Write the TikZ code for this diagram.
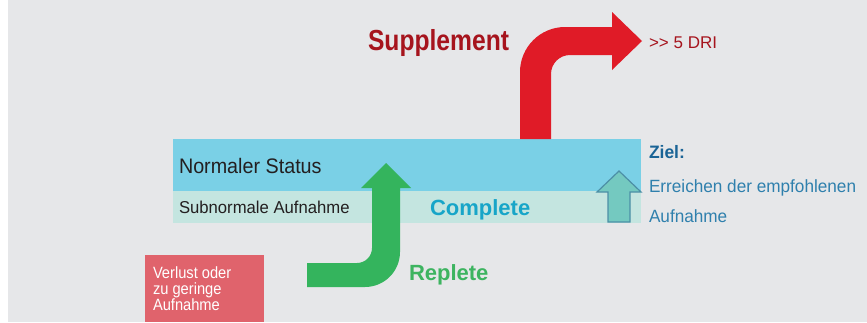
\documentclass[tikz,border=0pt]{standalone}
\usepackage{fontspec}
\setmainfont{Liberation Sans}
\newfontfamily\condN[FakeStretch=0.94]{Liberation Sans}
\newfontfamily\condA[FakeStretch=0.97]{Liberation Sans}
\newfontfamily\condB[FakeStretch=0.85]{Liberation Sans}
\newfontfamily\condC[FakeStretch=0.90]{Liberation Sans}
\definecolor{bggray}{HTML}{E6E7E9}
\definecolor{bandblue}{HTML}{7AD0E6}
\definecolor{bandlight}{HTML}{C4E5E0}
\definecolor{boxred}{HTML}{E0636C}
\definecolor{arrgreen}{HTML}{34B45D}
\definecolor{arrred}{HTML}{E01B27}
\definecolor{darkred}{HTML}{A6141D}
\definecolor{txtgray}{HTML}{231F20}
\definecolor{cyantxt}{HTML}{17A5C8}
\definecolor{greentxt}{HTML}{3DB460}
\definecolor{zielblue}{HTML}{1A6496}
\definecolor{goalblue}{HTML}{2F80AD}
\definecolor{tealfill}{HTML}{74C9C0}
\definecolor{tealline}{HTML}{4C8FA6}
\tikzset{
  lbl/.style={anchor=base west,inner sep=0pt,outer sep=0pt},
}
\begin{document}
\begin{tikzpicture}[x=1pt,y=-1pt]
\useasboundingbox (0,0) rectangle (867,322);
\fill[white] (0,0) rectangle (8,322);
\fill[bggray] (8,0) rectangle (867,322);
% bands
\fill[bandblue] (173,139) rectangle (641,191);
\fill[bandlight] (173,191) rectangle (641,223);
% red box
\fill[boxred] (145,255) rectangle (264,322);
% green arrow
\fill[arrgreen] (307,263) -- (357,263)
  .. controls (365.3,263) and (372,256.3) .. (372,248)
  -- (372,188) -- (361,188) -- (386,163) -- (411,188) -- (400,188)
  -- (400,252)
  .. controls (400,271.3) and (384.3,287) .. (365,287)
  -- (307,287) -- cycle;
% red arrow
\fill[arrred] (520,139) -- (520,72)
  .. controls (520,47.2) and (540.2,27) .. (565,27)
  -- (612,27) -- (612,12) -- (642,41) -- (612,70) -- (612,55)
  -- (570,55)
  .. controls (559.5,55) and (551,63.5) .. (551,74)
  -- (551,139) -- cycle;
% teal arrow
\filldraw[fill=tealfill,draw=tealline,line width=1.2pt,line join=miter]
  (608,222) -- (608,192) -- (597,192) -- (619,171) -- (641,192) -- (630,192) -- (630,222) -- cycle;
% texts
\node[lbl,text=txtgray,font=\condN\fontsize{21}{21}\selectfont] (normal) at (179,173.5) {Normaler Status};
\node[lbl,text=txtgray,font=\condA\fontsize{17.2}{17.2}\selectfont] (subnorm) at (179,213.3) {Subnormale Aufnahme};
\node[lbl,text=cyantxt,font=\bfseries\fontsize{22}{22}\selectfont] (complete) at (430,215) {Complete};
\node[lbl,text=greentxt,font=\bfseries\fontsize{22}{22}\selectfont] (replete) at (409,280) {Replete};
\node[lbl,text=darkred,font=\condB\bfseries\fontsize{29}{29}\selectfont] (suppl) at (368,50) {Supplement};
\node[lbl,text=darkred,font=\rmfamily\fontsize{17}{17}\selectfont] (dri) at (649,48) {>{}> 5 DRI};
\node[lbl,text=zielblue,font=\condA\bfseries\fontsize{18}{18}\selectfont] (ziel) at (649,158) {Ziel:};
\node[lbl,text=goalblue,font=\condA\fontsize{17.7}{30}\selectfont,align=left] (goal) at (649,222) {Erreichen der empfohlenen\\Aufnahme};
\node[lbl,text=white,font=\condC\fontsize{16.3}{16}\selectfont,align=left] (loss) at (153,310) {Verlust oder\\zu geringe\\Aufnahme};
\end{tikzpicture}
\end{document}
